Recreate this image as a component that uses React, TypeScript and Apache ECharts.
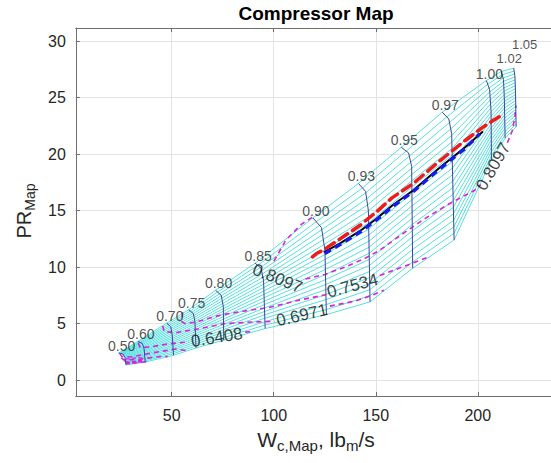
import React, { useEffect, useRef } from 'react';
import * as echarts from 'echarts';

// ---- speed lines (corrected speed) : surge point, bend, knee, choke point [Wc, PR]
const speedNames = ['0.50', '0.60', '0.70', '0.75', '0.80', '0.85', '0.90', '0.93', '0.95', '0.97', '1.00', '1.02', '1.05'];
const sp050 = [[24.0, 2.4], [26.2, 2.3], [27.1, 2.0], [27.6, 1.35]];
const sp060 = [[33.4, 3.43], [35.6, 3.25], [36.5, 2.75], [37.0, 1.6]];
const sp070 = [[47.6, 5.05], [49.6, 4.7], [50.3, 3.9], [50.9, 2.2]];
const sp075 = [[58.3, 6.23], [60.6, 5.9], [61.4, 5.16], [61.9, 2.85]];
const sp080 = [[71.5, 7.95], [74.3, 7.5], [75.3, 6.5], [75.5, 3.54]];
const sp085 = [[90.9, 10.35], [93.8, 9.9], [95.0, 8.85], [95.8, 4.57]];
const sp090 = [[119.2, 14.35], [123.4, 13.5], [125.1, 11.5], [125.8, 5.8]];
const sp093 = [[141.5, 17.4], [145.0, 16.7], [146.4, 15.0], [147.2, 6.93]];
const sp095 = [[162.5, 20.6], [166.1, 20.1], [167.6, 18.9], [168.1, 9.9]];
const sp097 = [[182.6, 23.7], [185.8, 23.1], [187.2, 21.8], [188.4, 12.4]];
const sp100 = [[204.2, 26.5], [205.8, 25.7], [206.5, 23.8], [206.7, 19.5]];
const sp102 = [[211.5, 27.3], [212.6, 26.6], [213.0, 25.0], [213.4, 21.4]];
const sp105 = [[217.6, 27.6], [218.2, 26.9], [218.5, 25.5], [218.8, 22.4]];
const speedLines = [sp050, sp060, sp070, sp075, sp080, sp085, sp090, sp093, sp095, sp097, sp100, sp102, sp105];

// ---- R-lines: relative position along each speed line (surge = 0, choke = 1)
const rLineFractions = [0, 0.05, 0.1, 0.15, 0.2, 0.25, 0.3, 0.35, 0.4, 0.45, 0.5, 0.55, 0.6, 0.65, 0.7, 0.75, 0.8, 0.85, 0.9, 0.95, 1];

// ---- efficiency contours (segments broken around their labels)
const eff8097 = [
  [[118.8, 14.4], [113.7, 13.8], [106, 12.4], [99.7, 10.4]],
  [[115.5, 8.95], [125, 9.35], [135, 10.0], [145, 10.8], [152, 11.5], [162, 12.8], [173.3, 14.2], [186, 15.6], [198.5, 16.8], [201.5, 17.3]],
  [[214.5, 21.0], [216.8, 22.0], [218.2, 23.3], [218.7, 24.3]],
];
const eff7534 = [
  [[55.4, 6.0], [54.8, 5.2], [56.5, 5.0], [62, 5.15], [73.7, 5.75], [85, 6.1], [98.2, 6.45], [112.9, 7.1], [125.5, 7.55]],
  [[152, 9.25], [165, 10.15], [176.6, 10.95]],
];
const eff6971 = [
  [[45.6, 4.8], [46.3, 4.3], [52, 4.2], [62, 4.5], [76, 5.0], [90, 5.15], [100.5, 5.2]],
  [[127.5, 6.55], [140, 7.0], [148, 7.5], [154, 7.95]],
];
const eff6408 = [
  [[33.6, 3.3], [34.5, 2.9], [40, 2.95], [48, 3.2], [58.5, 3.4]],
  [[86, 4.25], [90, 4.3]],
];
const effLower = [
  [[24.6, 2.35], [25.5, 2.1], [30, 2.05], [37, 2.3], [45, 2.55], [52, 2.75], [57, 2.62]],
  [[25.3, 2.0], [26.5, 1.8], [32, 1.8], [38, 1.95], [45, 2.1], [48, 2.08]],
  [[26.6, 1.75], [28, 1.6], [33, 1.55], [38, 1.64]],
  [[28.5, 1.38], [28.5, 1.95]],
  [[31.5, 1.46], [31.5, 2.0]],
  [[34.5, 1.54], [34.5, 2.05]],
];
const effLabelText = ['0.8097', '0.8097', '0.7534', '0.6971', '0.6408'];
const effLabelPos = [[101.8, 9.0], [207.6, 18.9], [138.6, 8.35], [113.8, 5.75], [72.1, 3.78]];
const effLabelAngle = [-22, 60, 15, 13, 9];

// ---- operating lines
const redLine = [[119.0, 10.9], [121, 11.2], [124.3, 11.5], [132.5, 12.5], [142.3, 13.7], [150.5, 14.9], [157.8, 16.1], [168.4, 17.4], [180.7, 19.3], [193.8, 21.2], [202.7, 22.4], [210.5, 23.3]];
const blackLine = [[124.5, 11.3], [132.5, 12.1], [142.3, 13.2], [150.5, 14.3], [157.8, 15.4], [168.4, 16.8], [180.7, 18.7], [193.8, 20.6], [202.5, 22.0]];
const blueLine = [[125, 11.2], [132.5, 12.0], [142.3, 13.1], [150.5, 14.2], [157.8, 15.3], [168.4, 16.7], [180.7, 18.6], [193.8, 20.5], [201, 21.8]];

const FONT = '"Liberation Sans", Arial, Helvetica, sans-serif';

// point at a relative length along a speed line (length measured on screen proportions)
function pointAlong(line: number[][], f: number): number[] {
  const k = 11.3 / 2.04;
  const segs: number[] = [];
  let total = 0;
  for (let i = 1; i < line.length; i++) {
    const d = Math.hypot(line[i][0] - line[i - 1][0], (line[i][1] - line[i - 1][1]) * k);
    segs.push(d);
    total += d;
  }
  let target = f * total;
  for (let i = 0; i < segs.length; i++) {
    if (target <= segs[i] || i === segs.length - 1) {
      const t = segs[i] > 0 ? Math.min(1, target / segs[i]) : 0;
      return [line[i][0] + (line[i + 1][0] - line[i][0]) * t, line[i][1] + (line[i + 1][1] - line[i][1]) * t];
    }
    target -= segs[i];
  }
  return line[line.length - 1];
}

export default function App() {
  const ref = useRef<HTMLDivElement>(null);
  useEffect(() => {
    if (!ref.current) return;
    const chart = echarts.init(ref.current, undefined, { renderer: 'svg' });
    const series: any[] = [];

    rLineFractions.forEach((f) => {
      series.push({
        type: 'line', silent: true, symbol: 'none', z: 1,
        data: speedLines.map((l) => pointAlong(l, f)),
        lineStyle: { color: '#55e0e0', width: 1 },
      });
    });

    const effStyle = { color: '#dd22dd', width: 1.6, type: [5, 4] };
    [...eff8097, ...eff7534, ...eff6971, ...eff6408].forEach((seg) => {
      series.push({ type: 'line', silent: true, symbol: 'none', z: 2, data: seg, lineStyle: effStyle });
    });
    effLower.forEach((seg, i) => {
      series.push({
        type: 'line', silent: true, symbol: 'none', z: 2, data: seg,
        lineStyle: i < 3 ? effStyle : { color: '#e020e0', width: 4, type: [3, 2] },
      });
    });

    speedLines.forEach((l) => {
      series.push({ type: 'line', silent: true, symbol: 'none', z: 3, data: l, lineStyle: { color: '#3a45a0', width: 1 } });
    });

    series.push({
      type: 'scatter', silent: true, z: 5, symbolSize: 1,
      itemStyle: { color: 'rgba(0,0,0,0)' },
      data: speedLines.map((l, i) => {
        const item: any = { value: l[0], name: speedNames[i] };
        if (speedNames[i] === '1.02') item.label = { offset: [8, -13], fontSize: 13 };
        if (speedNames[i] === '1.05') item.label = { offset: [11, -24], fontSize: 13 };
        return item;
      }),
      label: { show: true, position: 'inside', offset: [3, -7], formatter: (p: any) => p.name, fontSize: 14, color: '#262626', fontFamily: FONT },
    });

    series.push({
      type: 'scatter', silent: true, z: 5, symbolSize: 1,
      itemStyle: { color: 'rgba(0,0,0,0)' },
      data: effLabelPos.map((p, i) => ({ value: p, name: effLabelText[i], label: { rotate: effLabelAngle[i] } })),
      label: { show: true, position: 'inside', formatter: (p: any) => p.name, fontSize: 17, color: '#111', fontFamily: FONT },
    });

    series.push({ type: 'line', silent: true, symbol: 'none', z: 6, data: blackLine, lineStyle: { color: '#000', width: 2 } });
    series.push({ type: 'line', silent: true, symbol: 'none', z: 7, data: blueLine, lineStyle: { color: '#1a1ae6', width: 3.5, type: [7, 5] } });
    series.push({ type: 'line', silent: true, symbol: 'none', z: 8, data: redLine, lineStyle: { color: '#ee1c1c', width: 3.5, type: [10, 6], cap: 'round' } });

    const axisColor = '#6e6e6e';
    chart.setOption({
      animation: false,
      backgroundColor: '#ffffff',
      title: {
        text: 'Compressor Map', left: 316, top: 4, padding: 0, textAlign: 'center',
        textStyle: { fontSize: 19, fontWeight: 'bold', color: '#000', fontFamily: FONT },
      },
      grid: { left: 75.8, top: 28, width: 504, height: 368, containLabel: false, outerBoundsMode: 'none' },
      xAxis: [
        {
          type: 'value', min: 3, max: 250,
          axisLine: { show: true, onZero: false, lineStyle: { color: axisColor, width: 1 } },
          axisTick: { show: true, inside: true, length: 4, lineStyle: { color: axisColor } },
          splitLine: { show: true, lineStyle: { color: '#e3e3e3', width: 1 } },
          axisLabel: {
            fontSize: 16, color: '#262626', margin: 11, fontFamily: FONT,
            formatter: (v: number) => (Math.abs(v % 50) < 1e-6 && v >= 50 && v <= 200 ? String(v) : ''),
          },
        },
        {
          type: 'value', position: 'top', min: 3, max: 250,
          axisLine: { show: true, onZero: false, lineStyle: { color: axisColor, width: 1 } },
          axisTick: { show: true, inside: true, length: 4, lineStyle: { color: axisColor } },
          splitLine: { show: false },
          axisLabel: { show: false },
        },
      ],
      yAxis: [
        {
          type: 'value', min: -1.4, max: 31.15,
          axisLine: { show: true, onZero: false, lineStyle: { color: axisColor, width: 1 } },
          axisTick: { show: true, inside: true, length: 4, lineStyle: { color: axisColor } },
          splitLine: { show: true, lineStyle: { color: '#e3e3e3', width: 1 } },
          axisLabel: {
            fontSize: 16, color: '#262626', margin: 10, fontFamily: FONT,
            formatter: (v: number) => (Math.abs(v % 5) < 1e-6 && v >= 0 && v <= 30 ? String(v) : ''),
          },
        },
      ],
      graphic: [
        {
          type: 'text', x: 316, y: 439, silent: true,
          style: {
            text: '{a|W}{b|c,Map}{a|, lb}{b|m}{a|/s}',
            align: 'center', verticalAlign: 'middle', fill: '#262626',
            rich: {
              a: { fontSize: 21, fontFamily: FONT, fill: '#262626', color: '#262626' },
              b: { fontSize: 15, fontFamily: FONT, fill: '#262626', color: '#262626', padding: [12, 0, 0, 0] },
            },
          },
        },
        {
          type: 'text', x: 24, y: 211, rotation: Math.PI / 2, silent: true,
          style: {
            text: '{a|PR}{b|Map}',
            align: 'center', verticalAlign: 'middle', fill: '#262626',
            rich: {
              a: { fontSize: 20, fontFamily: FONT, fill: '#262626', color: '#262626' },
              b: { fontSize: 14, fontFamily: FONT, fill: '#262626', color: '#262626', padding: [12, 0, 0, 0] },
            },
          },
        },
      ],
      series,
    });
    return () => chart.dispose();
  }, []);
  return <div ref={ref} style={{ position: 'absolute', left: 0, top: 0, width: 551, height: 463 }} />;
}
